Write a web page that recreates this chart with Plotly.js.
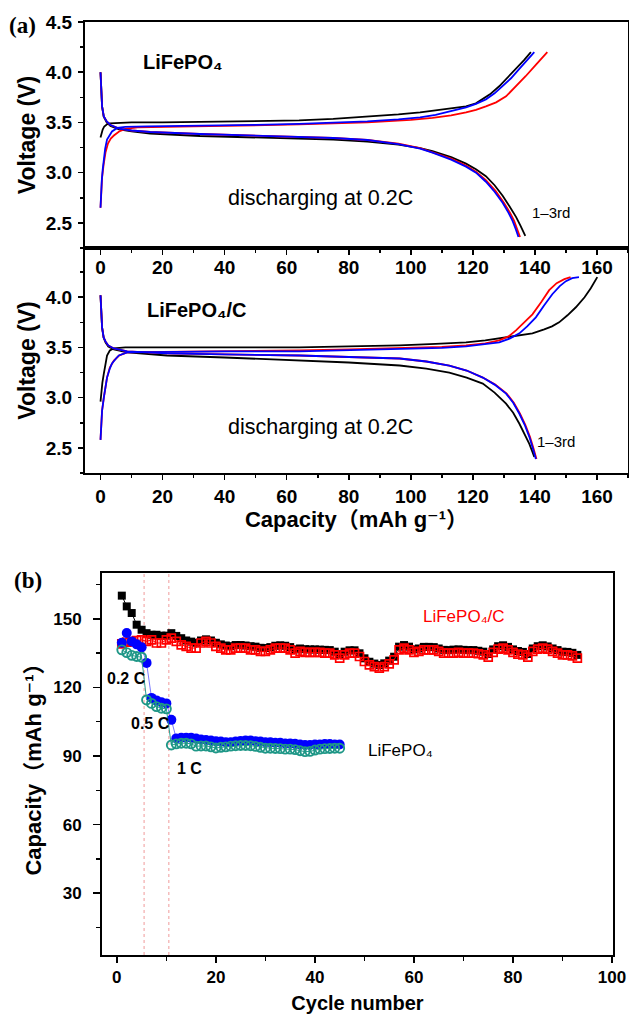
<!DOCTYPE html>
<html><head><meta charset="utf-8">
<script src="https://cdn.plot.ly/plotly-3.0.1.min.js"></script>
<style>html,body{margin:0;padding:0;background:#fff}</style>
</head><body><div id="chart" style="width:629px;height:1020px"></div>
<script>
// ---------- Panel (a) top: LiFePO4 ----------
const topChargeBlackCap = [0,0.3,0.7,1.2,2,3,5,10,20,35,50,64,75,86,96,103,108,113,117.8,121,123.2,125.5,128.5,131,133.9,136.5,138.7];
const topChargeBlackV   = [3.35,3.39,3.43,3.46,3.48,3.49,3.495,3.50,3.50,3.505,3.51,3.52,3.535,3.555,3.58,3.60,3.62,3.64,3.66,3.69,3.73,3.78,3.86,3.94,4.03,4.12,4.2];
const topChargeRedCap = [0,0.2,0.5,1,1.6,2.4,3.3,4.3,6,8,12,30,50,64,86,100,107,113,117.8,121,124.2,127.5,130.7,134,137,140.5,144];
const topChargeRedV   = [2.65,2.80,2.95,3.08,3.2,3.29,3.34,3.37,3.41,3.435,3.45,3.46,3.47,3.48,3.50,3.525,3.545,3.57,3.60,3.625,3.66,3.70,3.76,3.86,3.96,4.08,4.2];
const topChargeBlueCap = [0,0.15,0.4,0.7,1.07,1.5,2.1,3,3.7,5.4,8,15,30,50,64,75,86,96,103,108,113,117.8,121,124.2,127,129.6,132.3,134.9,137.5,139.8];
const topChargeBlueV   = [2.65,2.78,2.92,3.03,3.13,3.24,3.33,3.38,3.41,3.445,3.455,3.46,3.465,3.475,3.485,3.495,3.51,3.53,3.55,3.575,3.61,3.65,3.685,3.73,3.79,3.86,3.94,4.03,4.12,4.2];
const topDisBlackCap = [0,0.1,0.25,0.5,1,2,3.2,6,10,16,32,50,64,75,86,96,103,107,113,117.8,121,124.2,127,129.6,131.8,133.9,135.3,136.5,136.9];
const topDisBlackV   = [4.0,3.88,3.76,3.66,3.56,3.50,3.465,3.43,3.41,3.39,3.365,3.35,3.34,3.33,3.31,3.28,3.245,3.215,3.155,3.09,3.035,2.965,2.875,2.77,2.665,2.56,2.475,2.40,2.37];
const topDisRedCap = [0,0.1,0.25,0.5,1.07,2,3.2,6.4,10,16,32,50,64,75,86,96,103,107,113,117.8,121,124.2,127.3,130,132,133.3,134.3,134.9,135.2];
const topDisRedV   = [4.0,3.88,3.76,3.66,3.56,3.51,3.475,3.435,3.42,3.405,3.385,3.37,3.36,3.345,3.325,3.29,3.245,3.205,3.14,3.07,3.01,2.925,2.82,2.70,2.60,2.52,2.44,2.39,2.36];
const topDisBlueCap = [0,0.1,0.25,0.5,1.07,2,3.2,6.4,10,16,32,50,64,75,86,96,103,107,113,117.8,121,124.2,127,129.6,131.5,132.8,133.8,134.4,134.7];
const topDisBlueV   = [4.0,3.88,3.76,3.66,3.56,3.51,3.475,3.435,3.42,3.405,3.385,3.37,3.36,3.345,3.325,3.285,3.24,3.20,3.13,3.06,3.0,2.91,2.81,2.70,2.60,2.52,2.44,2.39,2.36];

// ---------- Panel (a) bottom: LiFePO4/C ----------
const botChargeBlackCap = [0,0.25,0.6,1.07,1.5,2.1,3,4.3,8,20,40,64,80,96.4,108,117.8,124,128.5,134,139.2,143,145.5,147.8,150.5,153.2,156,158,160.1];
const botChargeBlackV   = [2.96,3.05,3.15,3.24,3.33,3.42,3.47,3.49,3.50,3.50,3.50,3.50,3.51,3.52,3.535,3.55,3.57,3.59,3.61,3.64,3.68,3.71,3.75,3.82,3.90,4.0,4.09,4.2];
const botChargeRedCap = [0,0.2,0.5,1.07,1.6,2.1,3,4.3,6,8.6,20,40,64,80,96.4,110,117.8,124,128.5,131.5,133.9,136.5,139.2,142,144.6,147,149.5,151.5];
const botChargeRedV   = [2.58,2.72,2.87,3.0,3.11,3.2,3.3,3.37,3.42,3.45,3.455,3.46,3.47,3.48,3.49,3.505,3.52,3.54,3.57,3.61,3.67,3.75,3.83,3.95,4.07,4.14,4.18,4.2];
const botChargeBlueCap = [0,0.2,0.5,1.07,1.6,2.1,3,3.7,5,5.9,8.6,20,40,64,80,96.4,110,117.8,124,128.5,132,135,137.5,140.3,143,145.6,148,150,152,154.2];
const botChargeBlueV   = [2.58,2.72,2.87,3.0,3.11,3.2,3.29,3.34,3.39,3.42,3.45,3.455,3.46,3.46,3.47,3.48,3.495,3.51,3.53,3.55,3.59,3.64,3.71,3.80,3.92,4.03,4.11,4.16,4.19,4.2];
const botDisBlackCap = [0,0.1,0.25,0.5,1,1.6,2.5,4.3,8.6,21.4,40,64,80,96.4,105,112.4,118,123.2,127,130.7,133,135,136.7,138.2,139.2,139.8];
const botDisBlackV   = [4.02,3.9,3.8,3.70,3.6,3.55,3.51,3.48,3.45,3.42,3.40,3.37,3.35,3.32,3.29,3.25,3.20,3.14,3.05,2.94,2.85,2.74,2.64,2.54,2.46,2.41];
const botDisRedCap = [0,0.1,0.25,0.5,1,1.6,2.5,4.3,8.6,21.4,40,64,80,96.4,105,112.4,118,123.2,127.2,130.9,133.2,135.2,136.9,138.4,139.5,140.5];
const botDisRedV   = [4.02,3.9,3.8,3.70,3.6,3.56,3.52,3.49,3.46,3.44,3.43,3.42,3.405,3.39,3.36,3.32,3.27,3.20,3.13,3.04,2.95,2.84,2.73,2.61,2.50,2.39];
const botDisBlueCap = [0,0.1,0.25,0.5,1,1.6,2.5,4.3,8.6,21.4,40,64,80,96.4,105,112.4,118,123.2,127,130.7,133,135,136.7,138.2,139.3,140.3];
const botDisBlueV   = [4.02,3.9,3.8,3.70,3.6,3.56,3.52,3.49,3.46,3.44,3.43,3.42,3.405,3.39,3.36,3.32,3.27,3.20,3.13,3.04,2.95,2.84,2.73,2.61,2.50,2.39];

// ---------- Panel (b): cycling ----------
const chargeC = [160.1,155.4,152.5,147.4,145.2,143.7,143.0,143.0,142.6,142.6,
  143.7,142.5,141.5,140.5,140.0,139.5,140.5,141.0,140.5,139.5,
  138.8,138.3,138.0,138.5,138.5,138.3,138.0,137.8,137.3,137.2,
  137.6,138.2,138.4,138.2,137.6,136.6,137.0,136.7,136.6,136.6,
  136.5,136.4,136.3,135.6,134.5,135.6,136.2,136.2,134.9,132.7,
  131.2,130.4,129.8,130.5,131.7,133.4,137.8,138.5,137.8,136.6,
  137.0,137.7,137.7,137.6,137.0,136.4,136.3,136.5,136.6,136.4,
  136.3,136.3,136.0,135.6,134.6,136.6,138.0,138.4,137.7,136.6,
  135.9,135.5,134.6,137.0,138.0,138.4,137.9,137.0,136.3,135.6,
  135.5,135.1,134.2];
const dischargeC = [139.0,139.8,140.0,140.5,140.8,140.1,140.8,139.4,139.4,140.8,
  141.5,140.1,138.6,137.9,137.2,137.2,139.4,140.1,139.4,137.9,
  137.2,136.4,136.4,137.2,137.2,137.2,136.4,136.4,135.7,135.7,
  136.4,137.2,137.2,137.2,136.4,135.0,135.7,135.3,135.3,135.3,
  135.3,135.0,135.0,134.2,132.8,134.2,135.0,135.0,133.5,131.3,
  129.8,129.1,128.4,129.1,130.3,132.0,136.4,137.2,136.4,135.3,
  135.7,136.4,136.4,136.4,135.7,135.0,135.0,135.0,135.3,135.0,
  135.0,135.0,134.7,134.2,133.2,135.3,136.7,137.2,136.4,135.3,
  134.5,134.2,133.2,135.7,136.7,137.2,136.7,135.7,135.0,134.2,
  134.2,133.8,132.8];
const chargeP = [139.5,143.8,140.1,138.8,137.5,130.7,115.4,114.3,113.5,113.0,
  105.8,97.7,98.0,98.0,98.0,97.6,97.2,97.0,96.8,96.5,
  96.3,96.0,96.0,96.3,96.6,96.8,96.8,96.5,96.3,96.0,
  96.0,95.8,95.8,95.5,95.5,95.3,95.0,94.8,94.8,95.0,
  95.0,95.2,95.2,95.0,95.0];
const dischargeP = [136.4,135.2,134.0,133.5,133.2,114.5,113.0,111.6,110.9,110.6,
  94.8,95.3,95.6,95.6,95.3,94.3,94.4,94.4,94.0,93.5,
  93.8,94.0,94.3,94.5,94.6,94.6,94.5,94.2,93.8,93.4,
  93.4,93.3,93.2,93.0,93.0,92.8,92.3,91.9,92.0,92.6,
  93.0,93.2,93.3,93.4,93.4];
const cyclesC = chargeC.map((_, i) => i + 1);
const cyclesP = chargeP.map((_, i) => i + 1);
const rateChangeCycles = [5.5, 10.5];

const FONT = 'Arial, "Liberation Sans", "DejaVu Sans", "Noto Sans CJK SC", sans-serif';
const SERIF = '"Liberation Serif", "Times New Roman", serif';
const W = 629, H = 1020;

function curve(x, y, color, xa, ya) {
  return {x: x, y: y, type: 'scatter', mode: 'lines', xaxis: xa, yaxis: ya,
          line: {color: color, width: 1.8}, hoverinfo: 'skip'};
}
const traces = [
  curve(topChargeBlackCap, topChargeBlackV, '#000000', 'x', 'y'),
  curve(topDisBlackCap, topDisBlackV, '#000000', 'x', 'y'),
  curve(topChargeRedCap, topChargeRedV, '#ff0000', 'x', 'y'),
  curve(topDisRedCap, topDisRedV, '#ff0000', 'x', 'y'),
  curve(topChargeBlueCap, topChargeBlueV, '#0000ff', 'x', 'y'),
  curve(topDisBlueCap, topDisBlueV, '#0000ff', 'x', 'y'),
  curve(botChargeBlackCap, botChargeBlackV, '#000000', 'x2', 'y2'),
  curve(botDisBlackCap, botDisBlackV, '#000000', 'x2', 'y2'),
  curve(botChargeRedCap, botChargeRedV, '#ff0000', 'x2', 'y2'),
  curve(botDisRedCap, botDisRedV, '#ff0000', 'x2', 'y2'),
  curve(botChargeBlueCap, botChargeBlueV, '#0000ff', 'x2', 'y2'),
  curve(botDisBlueCap, botDisBlueV, '#0000ff', 'x2', 'y2'),
  {x: cyclesC, y: chargeC, type: 'scatter', mode: 'lines+markers', xaxis: 'x3', yaxis: 'y3',
   line: {color: '#000000', width: 1}, marker: {symbol: 'square', size: 8, color: '#000000'}},
  {x: cyclesC, y: dischargeC, type: 'scatter', mode: 'lines+markers', xaxis: 'x3', yaxis: 'y3',
   line: {color: '#ff0000', width: 1}, marker: {symbol: 'square-open', size: 8, color: '#ff0000', line: {width: 1.7}}},
  {x: cyclesP, y: chargeP, type: 'scatter', mode: 'lines+markers', xaxis: 'x3', yaxis: 'y3',
   line: {color: '#7a7aff', width: 1}, marker: {symbol: 'circle', size: 10, color: '#0000ff'}},
  {x: cyclesP, y: dischargeP, type: 'scatter', mode: 'lines+markers', xaxis: 'x3', yaxis: 'y3',
   line: {color: '#2a9d8f', width: 1}, marker: {symbol: 'circle-open', size: 9, color: '#1f9787', line: {width: 1.9}}}
];

const tickFontA = {family: FONT, size: 19, weight: 'bold', color: '#000'};
const tickFontB = {family: FONT, size: 17, weight: 'bold', color: '#000'};
function ax(extra) {
  return Object.assign({showline: true, linewidth: 2, linecolor: '#000', mirror: true,
    showgrid: false, zeroline: false, ticks: 'outside', ticklen: 5, tickwidth: 1.6, tickcolor: '#000'}, extra);
}
function note(text, xref, yref, x, y, size, opts) {
  return Object.assign({text: text, xref: xref, yref: yref, x: x, y: y, showarrow: false,
    xanchor: 'center', yanchor: 'middle', font: {family: FONT, size: size, color: '#000'}}, opts || {});
}
const CAP_TITLE = 'Capacity（mAh g⁻¹）';

const layout = {
  width: W, height: H, margin: {l: 0, r: 0, t: 0, b: 0},
  paper_bgcolor: '#ffffff', plot_bgcolor: 'rgba(0,0,0,0)', showlegend: false,
  font: {family: FONT, color: '#000'},
  xaxis: ax({domain: [85/W, 628/W], anchor: 'y', range: [-5, 170], tick0: 0, dtick: 20,
    tickfont: tickFontA, ticklabelstandoff: -4,
    minor: {dtick: 10, ticks: 'outside', ticklen: 3, tickwidth: 1.6, tickcolor: '#000', showgrid: false}}),
  yaxis: ax({domain: [1 - 248/H, 1 - 22/H], anchor: 'x', range: [2.25, 4.5], tick0: 2.5, dtick: 0.5,
    tickformat: '.1f', tickfont: tickFontA, ticklabelstandoff: 2,
    minor: {dtick: 0.25, ticks: 'outside', ticklen: 3, tickwidth: 1.6, tickcolor: '#000', showgrid: false},
    title: {text: 'Voltage (V)', font: {family: FONT, size: 23, weight: 'bold'}, standoff: 4}}),
  xaxis2: ax({domain: [85/W, 628/W], anchor: 'y2', range: [-5, 170], tick0: 0, dtick: 20,
    tickfont: tickFontA, ticklabelstandoff: 0,
    minor: {dtick: 10, ticks: 'outside', ticklen: 3, tickwidth: 1.6, tickcolor: '#000', showgrid: false},
    title: {text: CAP_TITLE, font: {family: FONT, size: 22, weight: 'bold'}, standoff: 6}}),
  yaxis2: ax({domain: [1 - 473/H, 1 - 248/H], anchor: 'x2', range: [2.25, 4.49], tick0: 2.5, dtick: 0.5,
    tickformat: '.1f', tickfont: tickFontA, ticklabelstandoff: 2,
    minor: {dtick: 0.25, ticks: 'outside', ticklen: 3, tickwidth: 1.6, tickcolor: '#000', showgrid: false},
    title: {text: 'Voltage (V)', font: {family: FONT, size: 23, weight: 'bold'}, standoff: 4}}),
  xaxis3: ax({domain: [102/W, 613/W], anchor: 'y3', range: [-3, 100.2], tick0: 0, dtick: 20,
    tickfont: tickFontB, ticklen: 6, ticklabelstandoff: 0,
    minor: {dtick: 10, ticks: 'outside', ticklen: 4, tickwidth: 1.6, tickcolor: '#000', showgrid: false},
    title: {text: 'Cycle number', font: {family: FONT, size: 20, weight: 'bold'}, standoff: 10}}),
  yaxis3: ax({domain: [1 - 955/H, 1 - 573/H], anchor: 'x3', range: [3, 170], tick0: 0, dtick: 30,
    tickfont: tickFontB, ticklen: 7, ticklabelstandoff: 8,
    minor: {dtick: 15, ticks: 'outside', ticklen: 4, tickwidth: 1.6, tickcolor: '#000', showgrid: false},
    title: {text: CAP_TITLE, font: {family: FONT, size: 22, weight: 'bold'}, standoff: 6}}),
  shapes: rateChangeCycles.map(c => ({type: 'line', xref: 'x3', yref: 'y3 domain', x0: c, x1: c, y0: 0, y1: 1,
    line: {color: 'rgba(235,120,120,0.75)', width: 1, dash: 'dot'}, layer: 'below'})),
  annotations: [
    note('(a)', 'paper', 'paper', 22/W, 1 - 25/H, 23, {font: {family: SERIF, size: 23, weight: 'bold', color: '#000'}}),
    note('(b)', 'paper', 'paper', 28/W, 1 - 580/H, 23, {font: {family: SERIF, size: 23, weight: 'bold', color: '#000'}}),
    note('LiFePO₄', 'x', 'y', 26.7, 4.1, 20, {font: {family: FONT, size: 20, weight: 'bold', color: '#000'}}),
    note('discharging at 0.2C', 'x', 'y', 71, 2.75, 21.5),
    note('1–3rd', 'x', 'y', 145.2, 2.6, 15),
    note('LiFePO₄/C', 'x2', 'y2', 31.2, 3.87, 20, {font: {family: FONT, size: 20, weight: 'bold', color: '#000'}}),
    note('discharging at 0.2C', 'x2', 'y2', 71, 2.705, 21.5),
    note('1–3rd', 'x2', 'y2', 146.8, 2.566, 15),
    note('0.2 C', 'x3', 'y3', 2.0, 123.7, 16, {font: {family: FONT, size: 16, weight: 'bold', color: '#000'}}),
    note('0.5 C', 'x3', 'y3', 6.7, 104, 16, {font: {family: FONT, size: 16, weight: 'bold', color: '#000'}}),
    note('1 C', 'x3', 'y3', 14.7, 84.7, 16, {font: {family: FONT, size: 16, weight: 'bold', color: '#000'}}),
    note('LiFePO₄/C', 'x3', 'y3', 70.1, 150.9, 17, {font: {family: FONT, size: 17, color: '#ff0000'}}),
    note('LiFePO₄', 'x3', 'y3', 57.2, 92.6, 17)
  ]
};

Plotly.newPlot('chart', traces, layout, {staticPlot: true, displayModeBar: false}).then(function () {
  document.querySelectorAll('#chart text').forEach(function (t) {
    if (!t.textContent.trim()) t.remove();
  });
});
</script></body></html>
